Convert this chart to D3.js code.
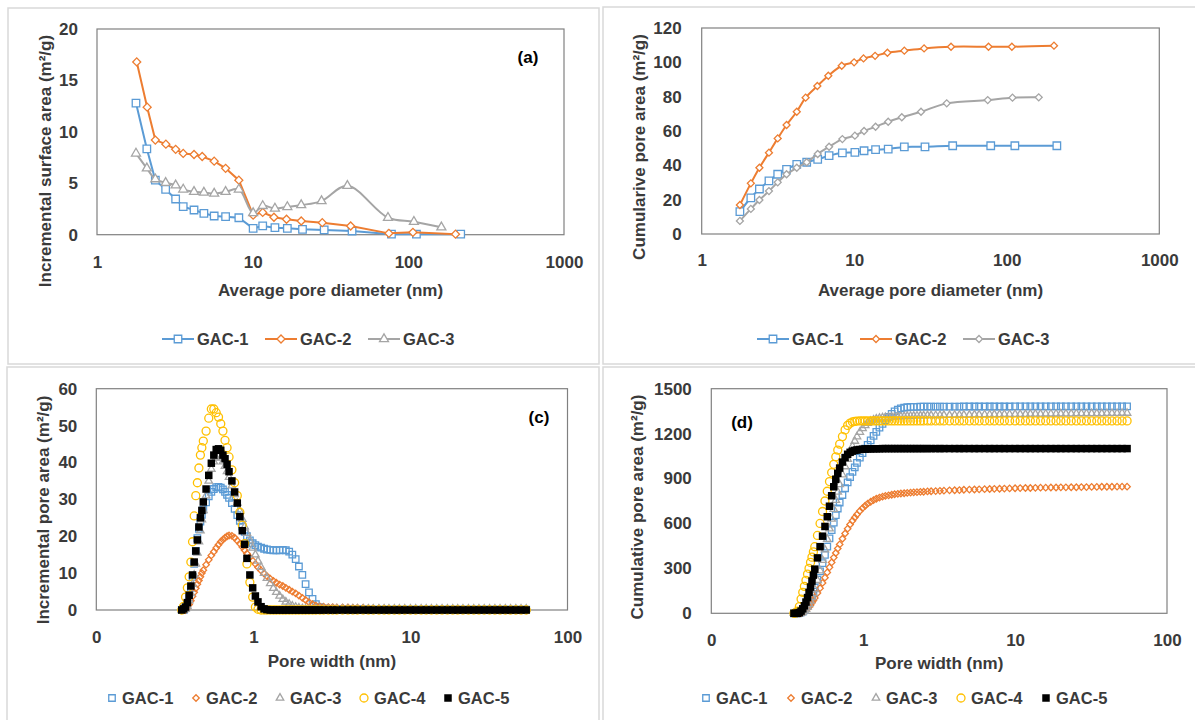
<!DOCTYPE html>
<html><head><meta charset="utf-8">
<script src="https://cdn.jsdelivr.net/npm/d3@7"></script>
<style>
body{margin:0;background:#fff;}
svg text{font-family:"Liberation Sans",Arial,sans-serif;}
</style></head><body>
<svg id="chart" width="1195" height="720"></svg>
<script>
// ---------- DATA ----------
const seriesNames = ["GAC-1","GAC-2","GAC-3","GAC-4","GAC-5"];
const seriesColors = ["#5B9BD5","#ED7D31","#A5A5A5","#FFC000","#000000"];

// Panel (a): incremental surface area vs average pore diameter (BJH)
const aDiam1 = [1.78,2.09,2.37,2.76,3.2,3.58,4.2,4.86,5.66,6.7,8.15,10.07,11.6,13.9,16.7,20.9,28.8,43.5,77.9,112.7,217];
const aArea1 = [12.8,8.35,5.3,4.4,3.47,2.72,2.4,2.08,1.82,1.75,1.65,0.62,0.85,0.68,0.62,0.52,0.46,0.36,0.05,0.05,0.05];
const aDiam2 = [1.80,2.10,2.37,2.77,3.2,3.58,4.2,4.74,5.66,6.7,8.15,10.07,11.6,13.7,16.5,20.5,28.0,42.6,75,107,201];
const aArea2 = [16.8,12.4,9.2,8.8,8.3,7.9,7.8,7.6,7.15,6.45,5.3,1.9,2.17,1.7,1.5,1.33,1.17,0.85,0.13,0.23,0.05];
const aDiam3 = [1.78,2.09,2.37,2.76,3.2,3.58,4.2,4.86,5.66,6.7,8.15,10.07,11.6,13.9,16.7,20.5,27.7,40.6,74,108.6,163];
const aArea3 = [7.9,6.45,5.4,5.05,4.8,4.4,4.17,4.1,4.0,4.17,4.4,2.1,2.8,2.55,2.7,2.88,3.27,4.75,1.65,1.26,0.72];

// Panel (b): cumulative pore area vs average pore diameter
const bDiam1 = [1.78,2.10,2.39,2.76,3.15,3.6,4.2,4.88,5.76,6.84,8.36,10.1,11.6,13.8,16.7,21.3,29.1,44.2,78.5,113,213];
const bArea1 = [13,21.1,26.2,30.9,34.8,37.7,40.6,41.8,43.5,45.6,47.3,47.6,48.5,49.1,49.5,50.7,50.8,51.4,51.4,51.4,51.4];
const bDiam2 = [1.78,2.10,2.39,2.76,3.15,3.6,4.2,4.8,5.73,6.76,8.28,9.98,11.5,13.7,16.5,21.3,28.7,43.1,75.9,108,204];
const bArea2 = [16.9,29.5,38.6,47.4,55.7,63.5,71.2,79.4,86.2,92.2,98.0,100.0,102.3,103.8,105.6,106.8,108.1,109.1,109.1,109.1,109.7];
const bDiam3 = [1.78,2.10,2.39,2.76,3.15,3.6,4.2,4.88,5.76,6.84,8.36,10.1,11.6,13.8,16.7,20.5,27.4,40.4,75,109,162];
const bArea3 = [7.6,14.6,19.8,25.0,30.1,34.8,38.6,41.8,46.6,50.8,55.3,57.3,60.0,62.5,65.4,68.0,71.2,76.1,78.0,79.4,79.6];

// Panels (c),(d): DFT pore width grid (nm)
const poreWidth = [
0.35,0.36,0.37,0.38,0.39,0.40,0.41,0.42,0.43,0.44,
0.45,0.46,0.47,0.48,0.50,0.52,0.54,0.56,0.58,0.60,
0.62,0.64,0.66,0.68,0.70,0.73,0.76,0.79,0.82,0.85,
0.88,0.91,0.95,0.99,1.03,1.07,1.12,1.17,1.22,1.28,
1.34,1.40,1.47,1.54,1.61,1.69,1.77,1.86,1.95,2.05,
2.15,2.26,2.38,2.50,2.65,2.80,3.0,3.2,3.4,3.7,
4.0,4.3,4.6,5.0,5.4,5.8,6.3,6.8,7.3,7.9,
8.5,9.2,10,10.8,11.7,12.6,13.6,14.7,15.9,17.2,
18.6,20,21.6,23.4,25.3,27.3,29.5,31.9,34.5,37.2,
40.2,43.4,46.9,50.6,54.6];

// Panel (c): incremental pore area
const incGAC1 = [
0,0,0.5,1.5,3.5,6,9,12.5,16,19.5,
22,24,25.8,27.2,29.2,30.8,32,32.8,33.3,33.4,
33.2,32.7,32,31.2,30.4,29,27.4,25.7,24.2,22.6,
21.2,20,18.9,18.1,17.6,17.2,16.9,16.6,16.4,16.3,
16.2,16.2,16.2,16.3,16.2,15.8,15,13.8,11.8,9.5,
7,4.8,3,1.6,0.8,0.4,0.3,0.3,0.2,0.2,
0.2,0.2,0.2,0.2,0.1,0.1,0.1,0.1,0.1,0.1,
0.1,0.1,0.1,0.1,0.1,0.1,0.1,0.1,0.1,0.1,
0.1,0.1,0.1,0.1,0.1,0.1,0.1,0.1,0.1,0.1,
0.1,0.1,0.1,0.1,0.1];
const incGAC2 = [
0,0,0,0.5,1.5,2.5,3.7,4.8,5.9,7,
8,9,10,10.8,12.3,13.6,14.8,15.8,16.8,17.7,
18.5,19.1,19.6,20,20.2,20.1,19.6,18.8,18,17.1,
16.2,15.3,14.3,13.4,12.5,11.6,10.7,9.9,9.2,8.5,
7.9,7.4,6.9,6.5,6,5.5,5,4.5,3.9,3.3,
2.7,2.1,1.6,1.2,1,0.9,0.8,0.8,0.7,0.7,
0.7,0.6,0.6,0.6,0.5,0.5,0.4,0.4,0.3,0.3,
0.3,0.3,0.3,0.2,0.2,0.2,0.2,0.2,0.2,0.2,
0.2,0.2,0.2,0.2,0.2,0.2,0.1,0.1,0.1,0.1,
0.1,0.1,0.1,0.1,0.1];
const incGAC3 = [
0,0,0.3,1,2.5,4.5,7,9.5,12.5,15.5,
18.5,21.5,24.5,27,31,35,38.2,40.2,41.3,41.6,
41.2,40.2,39,37.6,36,33.7,31.3,29,26.8,24.6,
22.6,20.8,18.8,16.8,15,13.3,11.6,10,8.6,7.2,
5.9,4.8,3.8,2.9,2.2,1.6,1.1,0.8,0.6,0.4,
0.3,0.3,0.3,0.3,0.3,0.3,0.3,0.3,0.3,0.3,
0.3,0.3,0.3,0.3,0.3,0.3,0.3,0.3,0.3,0.3,
0.3,0.3,0.3,0.3,0.3,0.3,0.3,0.3,0.3,0.3,
0.3,0.3,0.3,0.3,0.3,0.3,0.3,0.3,0.3,0.3,
0.3,0.3,0.3,0.3,0.3];
const incGAC4 = [
0,1,3.5,6,9,13,18.5,25.5,31,34.5,
38.5,42,44,45.8,48.5,52,54.5,54.5,53.5,52.3,
50.5,48.5,46,44,41.5,38,34.5,31,26.5,23,
18,12.5,7.5,3.5,0.8,0.2,0,0,0,0,
0,0,0,0,0,0,0,0,0,0,
0,0,0,0,0,0,0,0,0,0,
0,0,0,0,0,0,0,0,0,0,
0,0,0,0,0,0,0,0,0,0,
0,0,0,0,0,0,0,0,0,0,
0,0,0,0,0];
const incGAC5 = [
0,0.3,0.8,2,4,6.5,9.5,13,16,19,
22.5,25,27,29.3,32.8,36.5,39.8,42,43.5,43.7,
43.3,42,41,39.5,37.5,35,32,29,25.3,21.5,
17.8,14,9.5,6,3.8,2.2,0.9,0.3,0.1,0,
0,0,0,0,0,0,0,0,0,0,
0,0,0,0,0,0,0,0,0,0,
0,0,0,0,0,0,0,0,0,0,
0,0,0,0,0,0,0,0,0,0,
0,0,0,0,0,0,0,0,0,0,
0,0,0,0,0];

// Panel (d): cumulative pore area
const cumGAC1 = [
0,0,0,2,6,12,22,35,52,72,
95,120,145,172,225,280,335,390,445,500,
555,605,655,700,740,790,835,875,910,945,
975,1005,1040,1070,1100,1125,1155,1185,1212,1240,
1265,1290,1312,1332,1348,1360,1368,1373,1376,1378,
1379,1379,1380,1380,1380,1380,1380,1380,1380,1380,
1380,1380,1381,1381,1381,1381,1381,1381,1381,1381,
1381,1381,1382,1382,1382,1382,1382,1382,1382,1382,
1382,1382,1382,1382,1382,1382,1382,1382,1382,1382,
1382,1382,1382,1382,1382];
const cumGAC2 = [
0,0,0,0,2,6,12,20,30,42,
55,70,86,102,135,168,203,238,273,307,
340,372,403,432,460,498,533,565,593,618,
640,660,683,702,718,732,745,756,765,773,
779,784,788,792,795,798,800,802,804,806,
808,809,811,812,814,815,816,818,819,821,
822,823,825,826,827,828,829,830,831,832,
833,834,835,836,837,837,838,839,839,840,
840,841,841,842,842,843,843,844,844,845,
845,845,846,846,846];
const cumGAC3 = [
0,0,0,2,5,10,18,28,42,60,
82,106,132,160,220,285,355,425,495,565,
630,695,755,810,860,925,980,1030,1075,1115,
1150,1180,1210,1235,1255,1270,1283,1292,1298,1303,
1306,1308,1310,1311,1312,1313,1314,1315,1316,1317,
1318,1319,1320,1320,1321,1321,1322,1322,1323,1323,
1324,1324,1325,1325,1326,1326,1327,1327,1328,1328,
1329,1329,1330,1330,1330,1331,1331,1331,1332,1332,
1332,1333,1333,1333,1334,1334,1334,1335,1335,1335,
1336,1336,1336,1337,1337];
const cumGAC4 = [
0,3,15,45,95,140,180,220,262,300,
340,375,410,445,520,600,680,750,815,880,
940,995,1045,1090,1130,1180,1225,1255,1270,1278,
1282,1284,1285,1285,1285,1285,1285,1285,1285,1285,
1285,1285,1285,1285,1285,1285,1285,1285,1285,1285,
1285,1285,1285,1285,1285,1285,1285,1285,1285,1285,
1285,1285,1285,1285,1285,1285,1285,1285,1285,1285,
1285,1285,1285,1285,1285,1285,1285,1285,1285,1285,
1285,1285,1285,1285,1285,1285,1285,1285,1285,1285,
1285,1285,1285,1285,1285];
const cumGAC5 = [
0,0,0,5,15,30,50,75,105,140,
175,215,255,295,370,445,515,580,645,715,
785,845,895,935,970,1010,1040,1062,1075,1083,
1088,1091,1094,1096,1097,1098,1098,1099,1099,1099,
1100,1100,1100,1100,1100,1100,1100,1100,1100,1100,
1100,1100,1100,1100,1100,1100,1100,1100,1100,1100,
1100,1100,1100,1100,1100,1100,1100,1100,1100,1100,
1100,1100,1100,1100,1100,1100,1100,1100,1100,1100,
1100,1100,1100,1100,1100,1100,1100,1100,1100,1100,
1100,1100,1100,1100,1100];

// Tick values / labels
const ticksA_X = [1,10,100,1000];
const ticksA_Y = [0,5,10,15,20];
const ticksB_Y = [0,20,40,60,80,100,120];
const ticksCD_X = [0.1,1,10,100];
const labelsCD_X = ["0","1","10","100"];
const ticksC_Y = [0,10,20,30,40,50,60];
const ticksD_Y = [0,300,600,900,1200,1500];

// ---------- DRAWING ----------
const svg = d3.select("#chart");
const TXT = "#3a3a3a";
const FONT = "'Liberation Sans', Arial, sans-serif";

// panel frames
[[8,8,591,356],[603,7,600,357],[7,367,592,360],[603,367,600,360]].forEach(r=>{
  svg.append("rect").attr("x",r[0]).attr("y",r[1]).attr("width",r[2]).attr("height",r[3])
    .attr("fill","none").attr("stroke","#d9d9d9").attr("stroke-width",1.5);
});

function zip(xs, ys){ const n=Math.min(xs.length, ys.length); const out=[]; for(let i=0;i<n;i++) out.push([xs[i],ys[i]]); return out; }

function symbolPath(kind, s){
  if(kind==="square") return d3.symbol(d3.symbolSquare, s*s)();
  if(kind==="diamond") return d3.symbol(d3.symbolSquare, (s/Math.SQRT2)*(s/Math.SQRT2))();
  if(kind==="circle") return d3.symbol(d3.symbolCircle, Math.PI*(s/2)*(s/2))();
  if(kind==="triangle") { const y=s/(2*Math.sqrt(3)); return d3.symbol(d3.symbolTriangle, y*y*3*Math.sqrt(3))(); }
}
function rot(kind){ return kind==="diamond" ? " rotate(45)" : ""; }

function panel(cfg){
  const x = d3.scaleLog().domain(cfg.xDomain).range([cfg.x0, cfg.x1]);
  const y = d3.scaleLinear().domain(cfg.yDomain).range([cfg.y1, cfg.y0]);
  const g = svg.append("g");

  const xa = d3.axisBottom(x).tickValues(cfg.xTicks).tickFormat((d,i)=>cfg.xLabels[i]).tickSize(0).tickPadding(cfg.xPad);
  g.append("g").attr("transform",`translate(0,${cfg.y1})`).call(xa)
    .call(s=>s.select(".domain").remove())
    .selectAll("text").attr("font-size",17).attr("font-weight","bold").attr("font-family",FONT).attr("fill",TXT);
  const ya = d3.axisLeft(y).tickValues(cfg.yTicks).tickFormat(d3.format("d")).tickSize(0).tickPadding(cfg.yPad);
  g.append("g").attr("transform",`translate(${cfg.x0},0)`).call(ya)
    .call(s=>s.select(".domain").remove())
    .selectAll("text").attr("font-size",17).attr("font-weight","bold").attr("font-family",FONT).attr("fill",TXT);

  // plot border
  g.append("rect").attr("x",cfg.x0).attr("y",cfg.y0).attr("width",cfg.x1-cfg.x0).attr("height",cfg.y1-cfg.y0)
    .attr("fill","none").attr("stroke","#808080").attr("stroke-width",1.2);

  // series
  cfg.series.forEach(se=>{
    const pts = zip(se.xs, se.ys);
    if(se.line){
      const ln = d3.line().x(d=>x(d[0])).y(d=>y(d[1])).curve(se.smooth ? d3.curveCatmullRom.alpha(0.5) : d3.curveLinear);
      g.append("path").attr("d", ln(pts)).attr("fill","none").attr("stroke",se.color).attr("stroke-width",2);
    }
    const p = symbolPath(se.kind, se.size);
    g.append("g").selectAll("path").data(pts).join("path")
      .attr("d", p)
      .attr("transform", d=>`translate(${x(d[0])},${y(d[1])})${rot(se.kind)}`)
      .attr("fill", se.filled ? se.color : (se.line ? "#fff" : "none"))
      .attr("stroke", se.color).attr("stroke-width", se.filled ? 0 : 1.3);
  });

  // axis titles
  g.append("text").attr("x",(cfg.x0+cfg.x1)/2).attr("y",cfg.xTitleY).attr("text-anchor","middle")
    .attr("font-size",17).attr("font-weight","bold").attr("fill",TXT).text(cfg.xTitle);
  g.append("text").attr("transform",`translate(${cfg.yTitleX},${cfg.yTitleY}) rotate(-90)`).attr("dy","0.35em")
    .attr("text-anchor","middle").attr("font-size",17).attr("font-weight","bold").attr("fill",TXT).text(cfg.yTitle);

  if(cfg.tag){
    g.append("text").attr("x",cfg.tag[1]).attr("y",cfg.tag[2]).attr("text-anchor","middle")
      .attr("font-size",17).attr("font-weight","bold").attr("fill","#000").text(cfg.tag[0]);
  }

  // legend
  const lg = g.append("g");
  cfg.series.forEach((se,i)=>{
    const lx = cfg.legX + i*cfg.legStep, ly = cfg.legY;
    const p = symbolPath(se.kind, se.size);
    if(se.line){
      lg.append("line").attr("x1",lx).attr("x2",lx+32).attr("y1",ly).attr("y2",ly).attr("stroke",se.color).attr("stroke-width",2);
      lg.append("path").attr("d",p).attr("transform",`translate(${lx+16},${ly})${rot(se.kind)}`)
        .attr("fill","#fff").attr("stroke",se.color).attr("stroke-width",1.3);
      lg.append("text").attr("x",lx+35).attr("y",ly).attr("dy","0.36em").attr("font-size",16.5).attr("font-weight","bold").attr("fill",TXT).text(se.name);
    } else {
      lg.append("path").attr("d",p).attr("transform",`translate(${lx},${ly})${rot(se.kind)}`)
        .attr("fill", se.filled ? se.color : "none").attr("stroke",se.color).attr("stroke-width", se.filled?0:1.3);
      lg.append("text").attr("x",lx+10).attr("y",ly).attr("dy","0.36em").attr("font-size",16.5).attr("font-weight","bold").attr("fill",TXT).text(se.name);
    }
  });
}

// Panel a
panel({
  x0:97, x1:564, y0:29, y1:234.7, xDomain:[1,1000], yDomain:[0,20],
  xTicks:ticksA_X, xLabels:ticksA_X.map(String), yTicks:ticksA_Y, xPad:21, yPad:19,
  xTitle:"Average pore diameter (nm)", xTitleY:296,
  yTitle:"Incremental surface area (m²/g)", yTitleX:45, yTitleY:161,
  tag:["(a)",528,63],
  legX:162, legStep:103, legY:339,
  series:[
    {name:seriesNames[0], color:seriesColors[0], xs:aDiam1, ys:aArea1, kind:"square", size:7.5, line:true},
    {name:seriesNames[1], color:seriesColors[1], xs:aDiam2, ys:aArea2, kind:"diamond", size:8, line:true},
    {name:seriesNames[2], color:seriesColors[2], xs:aDiam3, ys:aArea3, kind:"triangle", size:9, line:true, smooth:true}
  ]
});

// Panel b
panel({
  x0:701.7, x1:1159.3, y0:28, y1:234, xDomain:[1,1000], yDomain:[0,120],
  xTicks:ticksA_X, xLabels:ticksA_X.map(String), yTicks:ticksB_Y, xPad:20, yPad:20,
  xTitle:"Average pore diameter (nm)", xTitleY:295.5,
  yTitle:"Cumularive pore area (m²/g)", yTitleX:639, yTitleY:147,
  legX:757, legStep:103, legY:339,
  series:[
    {name:seriesNames[0], color:seriesColors[0], xs:bDiam1, ys:bArea1, kind:"square", size:7.5, line:true, smooth:true},
    {name:seriesNames[1], color:seriesColors[1], xs:bDiam2, ys:bArea2, kind:"diamond", size:7, line:true, smooth:true},
    {name:seriesNames[2], color:seriesColors[2], xs:bDiam3, ys:bArea3, kind:"diamond", size:7, line:true, smooth:true}
  ]
});

// Panel c
const cKinds = ["square","diamond","triangle","circle","square"];
const cSizes = [6.5,6.5,7.5,8,7.5];
const incAll = [incGAC1,incGAC2,incGAC3,incGAC4,incGAC5];
const cumAll = [cumGAC1,cumGAC2,cumGAC3,cumGAC4,cumGAC5];
panel({
  x0:96.3, x1:567.5, y0:388.7, y1:610, xDomain:[0.1,100], yDomain:[0,60],
  xTicks:ticksCD_X, xLabels:labelsCD_X, yTicks:ticksC_Y, xPad:20.5, yPad:19,
  xTitle:"Pore width (nm)", xTitleY:667,
  yTitle:"Incremental pore area (m²/g)", yTitleX:43, yTitleY:510,
  tag:["(c)",539,423],
  legX:112, legStep:84, legY:698,
  series: seriesNames.map((n,i)=>({name:n, color:seriesColors[i], xs:poreWidth, ys:incAll[i], kind:cKinds[i], size:cSizes[i], filled:i===4}))
});

// Panel d
panel({
  x0:711.3, x1:1167, y0:388.7, y1:613.3, xDomain:[0.1,100], yDomain:[0,1500],
  xTicks:ticksCD_X, xLabels:labelsCD_X, yTicks:ticksD_Y, xPad:20.5, yPad:19.5,
  xTitle:"Pore width (nm)", xTitleY:668.5,
  yTitle:"Cumulative pore area (m²/g)", yTitleX:637, yTitleY:507,
  tag:["(d)",742,428],
  legX:706, legStep:85, legY:698,
  series: seriesNames.map((n,i)=>({name:n, color:seriesColors[i], xs:poreWidth, ys:cumAll[i], kind:cKinds[i], size:cSizes[i], filled:i===4}))
});
</script>
</body></html>
